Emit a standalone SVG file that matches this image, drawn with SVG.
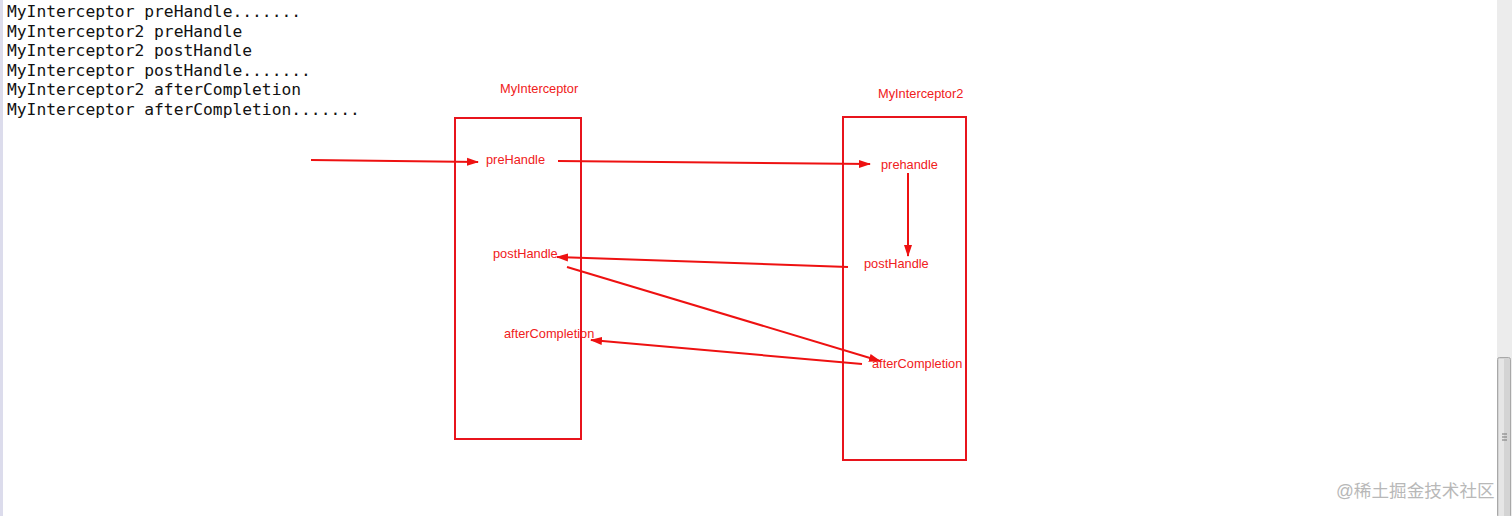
<svg xmlns="http://www.w3.org/2000/svg" width="1512" height="516" viewBox="0 0 1512 516">
<style>
.con{font-family:"DejaVu Sans Mono","Liberation Mono",monospace;font-size:16.3px;fill:#111}
.lbl{font-family:"Liberation Sans",Arial,sans-serif;font-size:12.8px;fill:#f02020}
.box{fill:none;stroke:#e8141c;stroke-width:2}
.arr{fill:none;stroke:#ee1111;stroke-width:2}
.wm{font-family:"Liberation Sans","Noto Sans CJK SC",sans-serif;font-size:17.6px;fill:#b8b8b8}
</style>
<defs>
<marker id="ah" viewBox="0 0 12 10" refX="11" refY="5" markerWidth="12" markerHeight="10" markerUnits="userSpaceOnUse" orient="auto">
<path d="M0,1 L12,5 L0,9 Z" fill="#ee1111"/>
</marker>
</defs>
<rect width="1512" height="516" fill="#fff"/>
<rect x="0" y="0" width="3" height="516" fill="#dcdcec"/>
<g id="console">
<text class="con" x="7" y="17">MyInterceptor preHandle.......</text>
<text class="con" x="7" y="37">MyInterceptor2 preHandle</text>
<text class="con" x="7" y="56">MyInterceptor2 postHandle</text>
<text class="con" x="7" y="76">MyInterceptor postHandle.......</text>
<text class="con" x="7" y="95">MyInterceptor2 afterCompletion</text>
<text class="con" x="7" y="115">MyInterceptor afterCompletion.......</text>
</g>
<g id="node-myinterceptor">
<text class="lbl" x="500" y="93">MyInterceptor</text>
<rect class="box" x="455" y="118" width="126" height="321"/>
<text class="lbl" x="486" y="164">preHandle</text>
<text class="lbl" x="493" y="258">postHandle</text>
<text class="lbl" x="504" y="338">afterCompletion</text>
</g>
<g id="node-myinterceptor2">
<text class="lbl" x="878" y="98">MyInterceptor2</text>
<rect class="box" x="843" y="117" width="123" height="343"/>
<text class="lbl" x="881" y="169">prehandle</text>
<text class="lbl" x="864" y="268">postHandle</text>
<text class="lbl" x="872" y="368">afterCompletion</text>
</g>
<g id="connectors">
<line class="arr" x1="311" y1="160" x2="478" y2="162" marker-end="url(#ah)"/>
<line class="arr" x1="558" y1="161" x2="870" y2="164" marker-end="url(#ah)"/>
<line class="arr" x1="908" y1="173" x2="908" y2="256" marker-end="url(#ah)"/>
<line class="arr" x1="848" y1="267" x2="557" y2="257" marker-end="url(#ah)"/>
<line class="arr" x1="567" y1="267" x2="880" y2="361" marker-end="url(#ah)"/>
<line class="arr" x1="862" y1="364" x2="591" y2="340" marker-end="url(#ah)"/>
</g>
<g id="scrollbar">
<rect x="1497" y="0" width="15" height="516" fill="#ececec"/>
<rect x="1497.5" y="357.5" width="13" height="160" rx="2" fill="#d4d4d4" stroke="#a8a8a8"/>
<rect x="1499" y="359" width="5" height="157" fill="#e6e6e6"/>
<line x1="1502" y1="434" x2="1507" y2="434" stroke="#777"/>
<line x1="1502" y1="437" x2="1507" y2="437" stroke="#777"/>
<line x1="1502" y1="440" x2="1507" y2="440" stroke="#777"/>
</g>
<text class="wm" x="1336" y="497">@稀土掘金技术社区</text>
</svg>
